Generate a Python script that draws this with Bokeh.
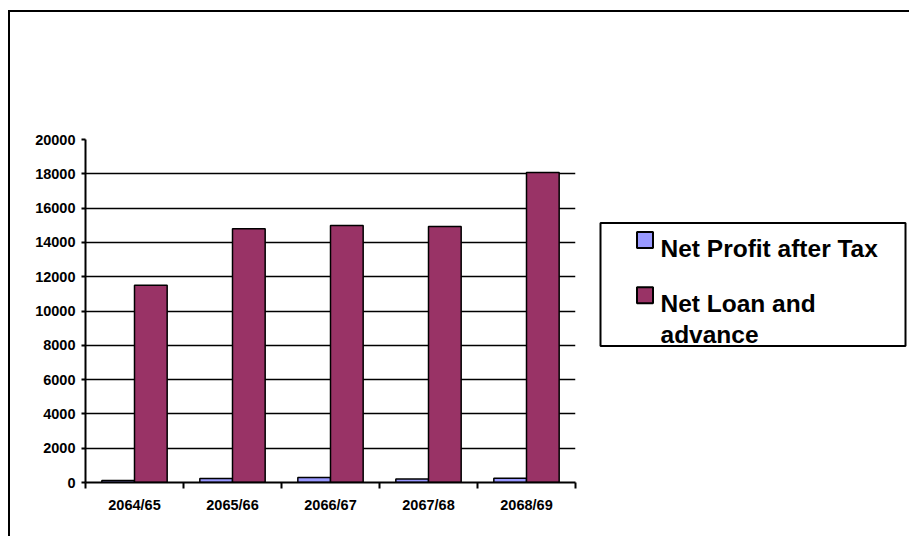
from bokeh.plotting import figure
from bokeh.models import Range1d, FixedTicker, ColumnDataSource, Row
from bokeh.transform import dodge
from bokeh.core.properties import value
from bokeh.embed import file_html
from bokeh.resources import INLINE

# ---- data ----
categories = ["2064/65", "2065/66", "2066/67", "2067/68", "2068/69"]
profit = [120, 230, 290, 200, 250]
loan = [11500, 14800, 14980, 14930, 18080]
series_names = ["Net Profit after Tax", "Net Loan and\nadvance"]
series_colors = ["#9999FF", "#993366"]
y_ticks = list(range(0, 20001, 2000))

FONT = "Liberation Sans"
TOP, BOTTOM = 127, 54   # borders shared by both panels (frames are aligned)
H = 524

xs = [i + 0.5 for i in range(len(categories))]
src = ColumnDataSource(dict(x=xs, profit=profit, loan=loan))

p = figure(width=580, height=H,
           x_range=Range1d(0, len(categories)), y_range=Range1d(0, 20000),
           output_backend="svg", toolbar_location=None,
           min_border_left=75, min_border_right=15,
           min_border_top=TOP, min_border_bottom=BOTTOM)
p.outline_line_color = None
p.background_fill_color = "white"
p.border_fill_color = "white"

p.vbar(x=dodge("x", -1/6, range=p.x_range), top="profit", width=1/3, source=src,
       fill_color=series_colors[0], line_color="black", line_width=1.5)
p.vbar(x=dodge("x", 1/6, range=p.x_range), top="loan", width=1/3, source=src,
       fill_color=series_colors[1], line_color="black", line_width=1.5)

yt = FixedTicker(ticks=y_ticks)
p.yaxis.ticker = yt
p.ygrid.ticker = yt
p.ygrid.grid_line_color = "black"
p.ygrid.grid_line_width = 1.5
p.xgrid.visible = False

p.yaxis.axis_line_width = 2
p.yaxis.axis_line_color = "black"
p.yaxis.major_tick_line_width = 2
p.yaxis.major_tick_out = 4
p.yaxis.major_tick_in = 0
p.yaxis.minor_tick_line_color = None
p.yaxis.major_label_standoff = 6
p.yaxis.major_label_text_font = FONT
p.yaxis.major_label_text_font_style = "bold"
p.yaxis.major_label_text_font_size = "14.5px"
p.yaxis.major_label_text_color = "black"

p.xaxis.ticker = FixedTicker(ticks=xs, minor_ticks=list(range(len(categories) + 1)))
p.xaxis.major_label_overrides = {x: c for x, c in zip(xs, categories)}
p.xaxis.axis_line_width = 2
p.xaxis.axis_line_color = "black"
p.xaxis.major_tick_out = 0
p.xaxis.major_tick_in = 0
p.xaxis.major_tick_line_color = None
p.xaxis.minor_tick_out = 6
p.xaxis.minor_tick_in = 0
p.xaxis.minor_tick_line_width = 2
p.xaxis.minor_tick_line_color = "black"
p.xaxis.major_label_standoff = 8
p.xaxis.major_label_text_font = FONT
p.xaxis.major_label_text_font_style = "bold"
p.xaxis.major_label_text_font_size = "14.5px"
p.xaxis.major_label_text_color = "black"

# ---- legend panel (coordinates in page pixels, y downward) ----
LX0, LW = 590, 319
FY0, FY1 = 12 + TOP, 12 + H - BOTTOM  # page y of legend panel frame top / bottom
q = figure(width=LW, height=H, x_range=Range1d(LX0, LX0 + LW), y_range=Range1d(FY1, FY0),
           output_backend="svg", toolbar_location=None,
           x_axis_location=None, y_axis_location=None,
           min_border_left=0, min_border_right=0,
           min_border_top=TOP, min_border_bottom=BOTTOM)
q.outline_line_color = None
q.xgrid.visible = False
q.ygrid.visible = False
q.background_fill_color = "white"
q.border_fill_color = "white"

box = dict(left=600, right=905, top=222.5, bottom=345.5)
q.quad(left=[box["left"]], right=[box["right"]], top=[box["top"]], bottom=[box["bottom"]],
       fill_color="white", line_color="black", line_width=2)

sw_x = 644.5
row_y = [239.5, 294.7]
base_y = [248.3, 303.3]
line_gap = 30.7
q.rect(x=[sw_x] * len(series_names), y=row_y, width=16, height=16,
       fill_color=series_colors, line_color="black", line_width=2)

tx, ty, tt = [], [], []
for name, b in zip(series_names, base_y):
    for k, ln in enumerate(name.split("\n")):
        tx.append(660)
        ty.append(b + k * line_gap)
        tt.append(ln)
q.text(x=tx, y=ty, text=tt, text_font=value(FONT), text_font_style="bold",
       text_font_size="24.5px", text_baseline="alphabetic", text_align="left",
       text_color="black")

layout = Row(children=[p, q], spacing=0, margin=(10, 0, 0, 8),
             styles={"border-left": "2px solid black", "border-top": "2px solid black"})

open("out.html", "w").write(file_html(layout, INLINE))
